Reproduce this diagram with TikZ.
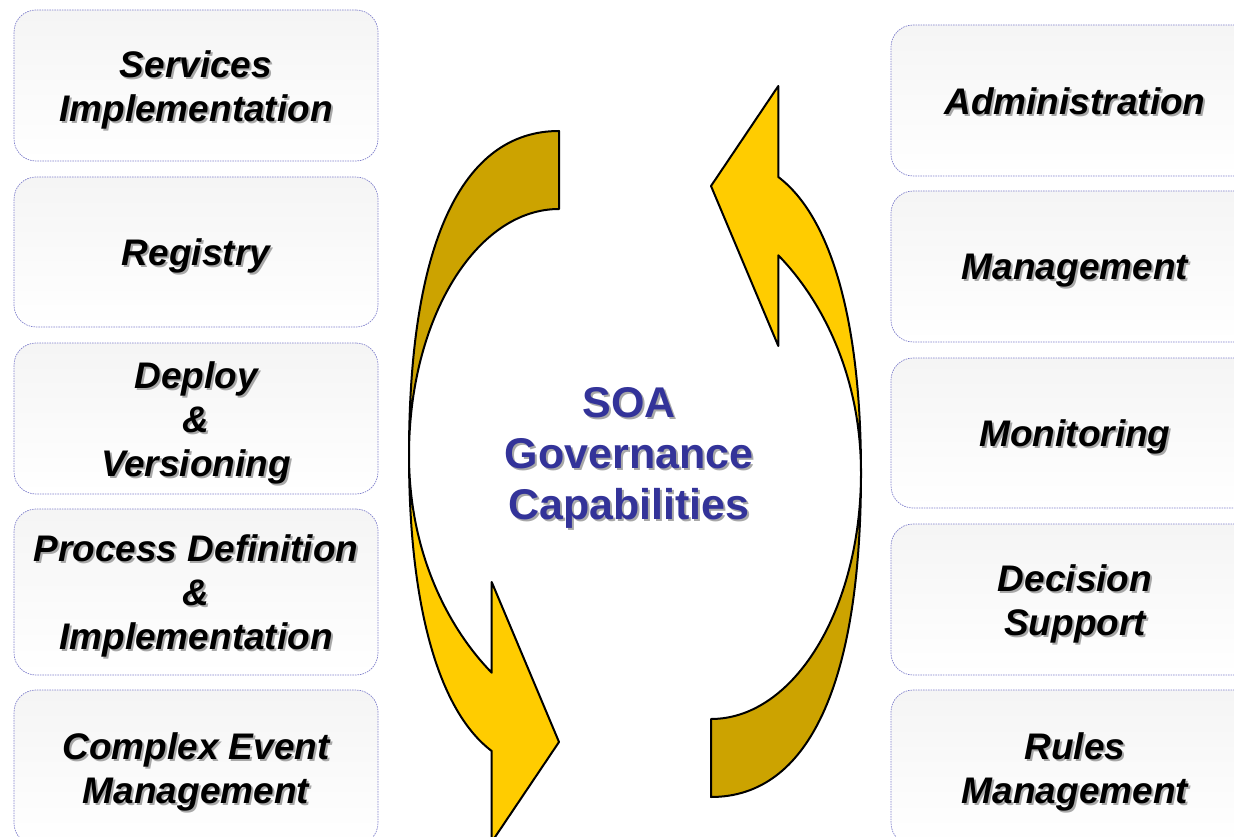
\documentclass[tikz,border=0pt]{standalone}
\usepackage{fontspec}
\setmainfont{Liberation Sans}
\definecolor{darkgold}{HTML}{CCA300}
\definecolor{goldyel}{HTML}{FFCC00}
\definecolor{boxline}{HTML}{8080CC}
\definecolor{soablue}{HTML}{333399}
\definecolor{shadowgray}{HTML}{A8A8A8}
\tikzset{
  capbox/.style={draw=boxline, line width=0.7pt, dash pattern=on 1.5pt off 1pt,
    rounded corners=22pt, top color=black!4, bottom color=white,
    minimum width=364pt, inner sep=0pt},
  rcapbox/.style={capbox, minimum width=368pt},
  captext/.style={align=center, font=\fontsize{37}{44}\selectfont\bfseries\itshape, inner sep=0pt, text=black},
  capshadow/.style={captext, text=shadowgray},
  midtext/.style={align=center, font=\fontsize{43}{51}\selectfont\bfseries, inner sep=0pt, text=soablue},
  midshadow/.style={midtext, text=shadowgray},
  ribbon/.style={draw=black, line width=2pt, line join=round}
}
\newcommand{\gbox}[5]{%
  \node[#2, minimum height=#5] (#1) at #3 {};
  \node[capshadow] at ([shift={(2,6)}]#1.center) {#4};
  \node[captext] at ([shift={(0,4)}]#1.center) {#4};
}
\begin{document}
\begin{tikzpicture}[x=1pt,y=-1pt]
\useasboundingbox (0,0) rectangle (1234,837);
\clip (0,0) rectangle (1234,837);
% left column
\gbox{l1}{capbox}{(196,85.5)}{Services\\Implementation}{151pt}
\gbox{l2}{capbox}{(196,252)}{Registry}{150pt}
\gbox{l3}{capbox}{(196,418.5)}{Deploy\\\&\\Versioning}{151pt}
\gbox{l4}{capbox}{(196,592)}{Process Definition\\\&\\Implementation}{166pt}
\gbox{l5}{capbox}{(196,767.5)}{Complex Event\\Management}{155pt}
% right column
\gbox{r1}{rcapbox}{(1075,100.5)}{Administration\vphantom{y}}{151pt}
\gbox{r2}{rcapbox}{(1075,266.5)}{Management}{151pt}
\gbox{r3}{rcapbox}{(1075,433)}{Monitoring}{150pt}
\gbox{r4}{rcapbox}{(1075,599.5)}{Decision\\Support}{151pt}
\gbox{r5}{rcapbox}{(1075,767.5)}{Rules\\Management}{155pt}
% left ribbon arrow
\draw[ribbon, fill=darkgold] (559,131) .. controls (461.5,131) and (409,244) .. (409,455)
  .. controls (409,319) and (476,209) .. (559,209) -- cycle;
\draw[ribbon, fill=goldyel] (409,455) .. controls (409,555) and (450,630) .. (491.7,672.7)
  -- (491.7,582) -- (559,742) -- (491.7,842) -- (491.7,751)
  .. controls (440,712) and (409,610) .. (409,455) -- cycle;
% right ribbon arrow (point reflection)
\begin{scope}[rotate around={180:(635,464)}]
\draw[ribbon, fill=darkgold] (559,131) .. controls (461.5,131) and (409,244) .. (409,455)
  .. controls (409,319) and (476,209) .. (559,209) -- cycle;
\draw[ribbon, fill=goldyel] (409,455) .. controls (409,555) and (450,630) .. (491.7,672.7)
  -- (491.7,582) -- (559,742) -- (491.7,842) -- (491.7,751)
  .. controls (440,712) and (409,610) .. (409,455) -- cycle;
\end{scope}
% centre text
\node[midshadow] at (631,460) {SOA\\Governance\\Capabilities};
\node[midtext] (soa) at (629,458) {SOA\\Governance\\Capabilities};
\end{tikzpicture}
\end{document}
